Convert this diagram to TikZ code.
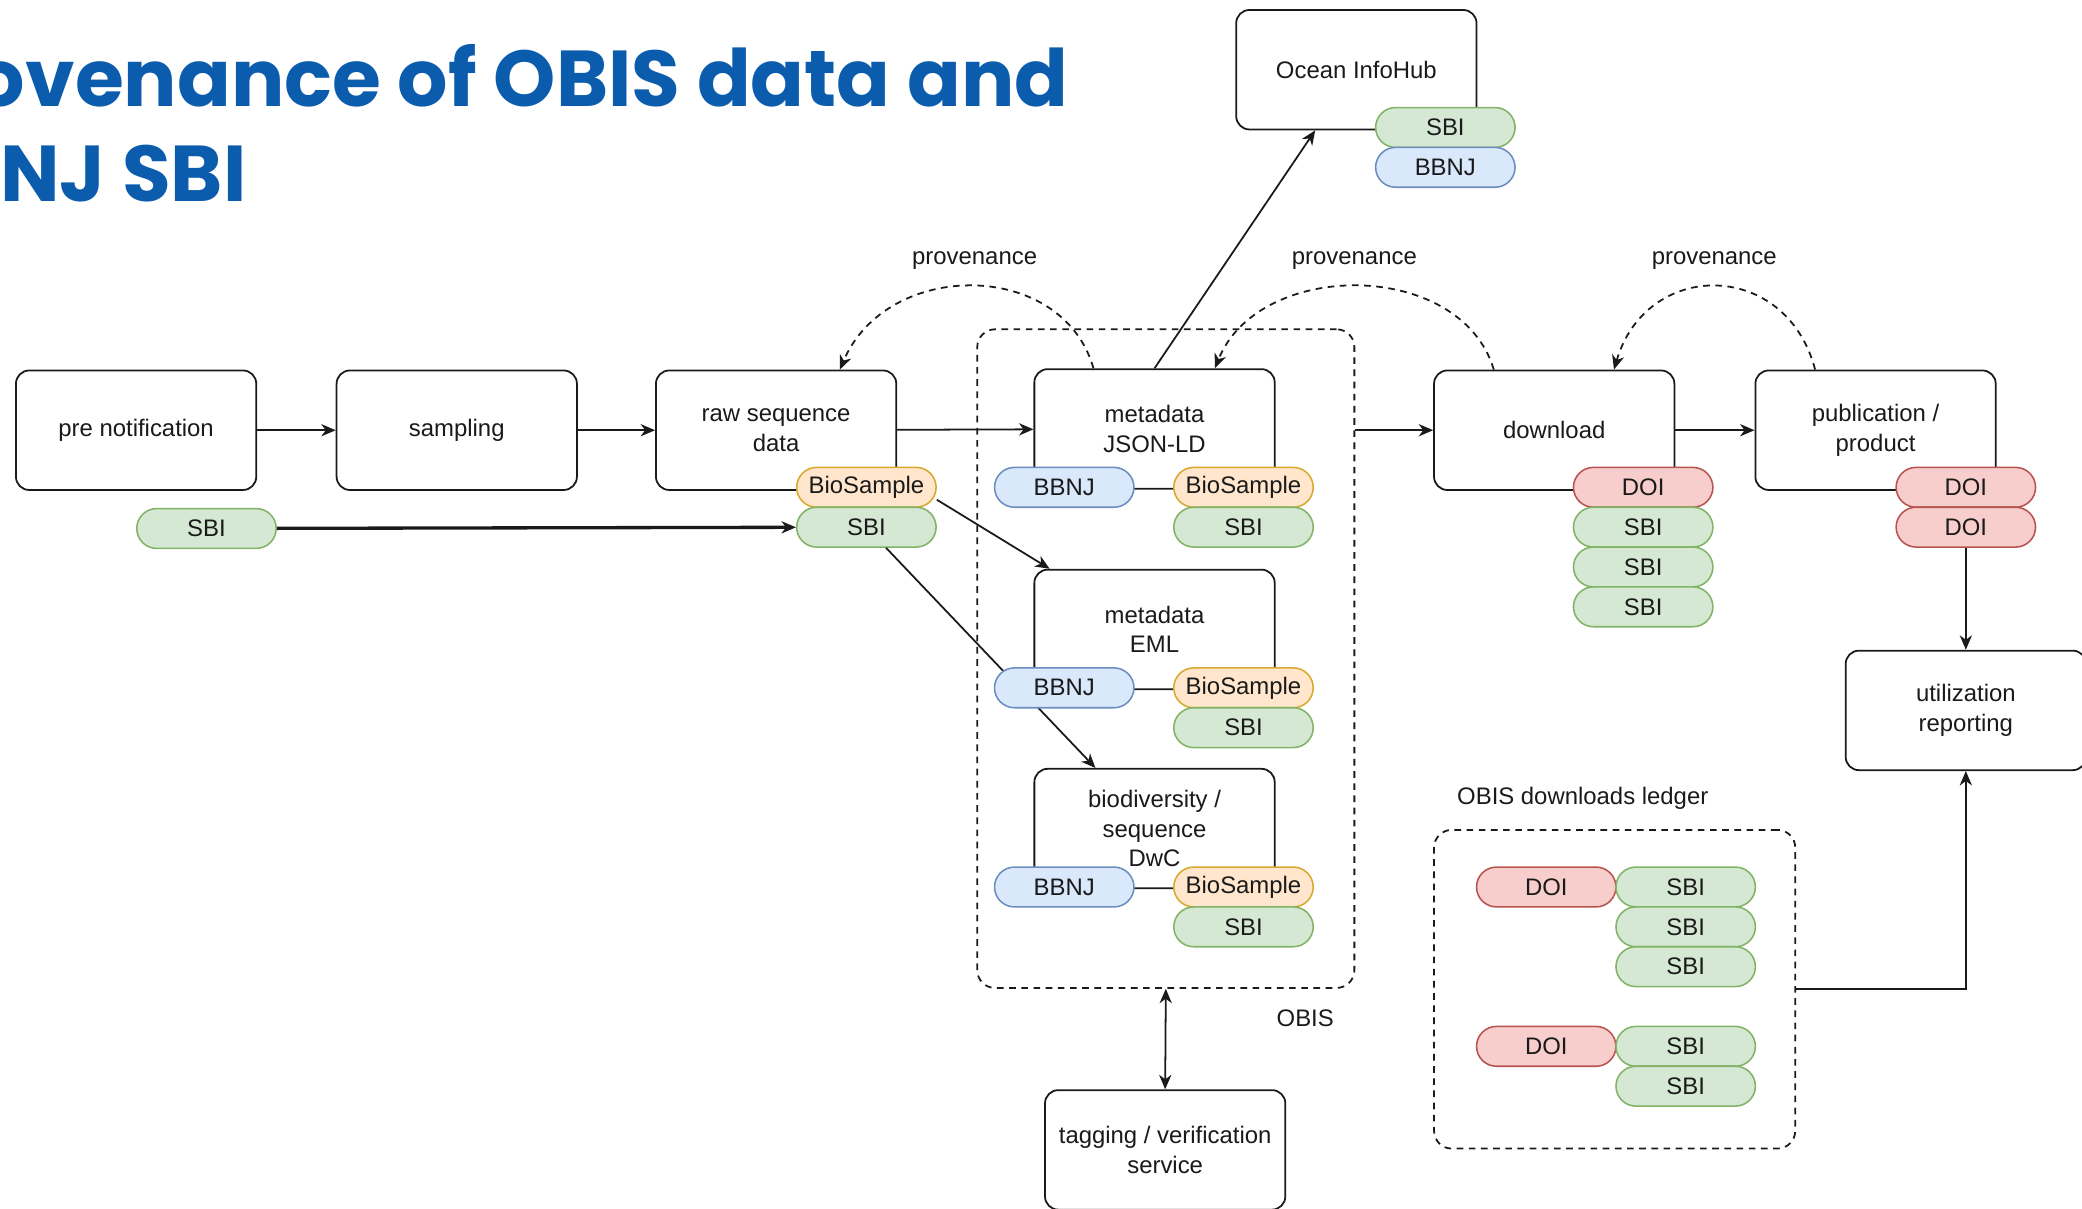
\documentclass[tikz,border=0pt]{standalone}
\usepackage{fontspec}
\setmainfont{Liberation Sans}
\newfontfamily\titlefont{Poppins}
\usetikzlibrary{arrows.meta,calc}
\definecolor{gfill}{HTML}{D5E8D4}\definecolor{gline}{HTML}{82B366}
\definecolor{bfill}{HTML}{DAE8FC}\definecolor{bline}{HTML}{6C8EBF}
\definecolor{ofill}{HTML}{FFE6CC}\definecolor{oline}{HTML}{D9A82E}
\definecolor{rfill}{HTML}{F8CECC}\definecolor{rline}{HTML}{B85450}
\definecolor{titleblue}{HTML}{0B5CAD}
\definecolor{ink}{HTML}{1A1A1A}
\begin{document}
\begin{tikzpicture}[x=0.6pt,y=-0.6pt,
  every node/.style={font=\fontsize{10.8pt}{13.2pt}\selectfont, text=ink},
  box/.style={draw=ink, line width=0.8pt, rounded corners=6pt, minimum width=108.6pt, minimum height=54pt, align=center, inner sep=0pt, fill=white},
  pill/.style={line width=0.7pt, rounded corners=9pt, minimum width=63pt, minimum height=18pt, inner sep=0pt},
  gpill/.style={pill, fill=gfill, draw=gline},
  bpill/.style={pill, fill=bfill, draw=bline},
  opill/.style={pill, fill=ofill, draw=oline},
  rpill/.style={pill, fill=rfill, draw=rline},
  container/.style={draw=ink, dash pattern=on 3pt off 2.5pt, line width=0.8pt, rounded corners=8pt, inner sep=0pt},
  arr/.style={-{Stealth[length=6.5pt,width=5.5pt,inset=2pt]}, line width=0.8pt, draw=ink},
  prov/.style={arr, dash pattern=on 3pt off 2.5pt},
  lbl/.style={inner sep=0pt},
  titletext/.style={anchor=base east, inner sep=0pt, font=\titlefont\bfseries\fontsize{35.8pt}{40pt}\selectfont, text=titleblue}
]
\useasboundingbox (0,0) rectangle (1568,910);

% title
\node[titletext] (t1) at (805,80) {Provenance of OBIS data and};
\node[titletext] (t2) at (186,152) {BBNJ SBI};

% containers
\node[container, minimum width=170.4pt, minimum height=297.6pt] (obis) at (878,496) {};
\node[container, minimum width=163.2pt, minimum height=144pt] (ledger) at (1216,745) {};
\node[lbl] (obislbl) at (983,767) {OBIS};
\node[lbl] (ledgerlbl) at (1192,601) {OBIS downloads ledger};

% boxes
\node[box] (pre) at (102.5,324) {pre notification};
\node[box] (samp) at (344,324) {sampling};
\node[box] (raw) at (584.5,324) {raw sequence\\data};
\node[box] (json) at (869.5,323) {metadata\\JSON-LD};
\node[box] (eml) at (869.5,474) {metadata\\EML};
\node[box] (dwc) at (869.5,624) {biodiversity /\\sequence\\DwC};
\node[box] (down) at (1170.5,324) {download};
\node[box] (pub) at (1412.5,324) {publication /\\product};
\node[box] (util) at (1480.5,535) {utilization\\reporting};
\node[box] (ocean) at (1021.5,52.5) {Ocean InfoHub};
\node[box] (tag) at (877.5,866) {tagging / verification\\service};

% provenance labels
\node[lbl] (p1) at (734,196) {provenance};
\node[lbl] (p2) at (1020,196) {provenance};
\node[lbl] (p3) at (1291,196) {provenance};

% connectors behind pills
\draw[arr] (pre) -- (samp);
\draw[arr] (samp) -- (raw);
\draw[arr] (raw) -- (json);
\draw[arr] (down.west -| obis.east) -- (down);
\draw[arr] (down) -- (pub);
\draw[arr] (json.north) -- ($(ocean.south)+(-31,0)$);
\draw[arr] (ledger.east) -| (util.south);
\draw[{Stealth[length=6.5pt,width=5.5pt,inset=2pt]}-{Stealth[length=6.5pt,width=5.5pt,inset=2pt]}, line width=0.8pt, draw=ink] (obis.south) -- (tag.north);

\draw[prov] ($(json.north)+(-46,0)$) .. controls (800,195) and (668,195) .. ($(raw.north)+(48,0)$);
\draw[prov] ($(down.north)+(-45.5,0)$) .. controls (1100,195) and (948,195) .. ($(json.north)+(45.5,0)$);
\draw[prov] ($(pub.north)+(-45.5,0)$) .. controls (1345,195) and (1240,195) .. ($(down.north)+(45,0)$);

% pills
\node[gpill] (lsbi) at (155.5,398) {SBI};
\node[opill] (rawbio) at (652.5,367) {BioSample};
\node[gpill] (rawsbi) at (652.5,397) {SBI};

\draw[arr] (rawbio.-10) -- ($(eml.north)+(-79,0)$);
\draw[arr] (rawsbi) -- ($(dwc.north)+(-44.5,0)$);

\node[bpill] (jbbnj) at (801.5,367) {BBNJ};
\node[opill] (jbio) at (936.5,367) {BioSample};
\node[gpill] (jsbi) at (936.5,397) {SBI};

\node[bpill] (ebbnj) at (801.5,518) {BBNJ};
\node[opill] (ebio) at (936.5,518) {BioSample};
\node[gpill] (esbi) at (936.5,548) {SBI};

\node[bpill] (dbbnj) at (801.5,668) {BBNJ};
\node[opill] (dbio) at (936.5,668) {BioSample};
\node[gpill] (dsbi) at (936.5,698) {SBI};

\node[gpill] (osbi) at (1088.5,96) {SBI};
\node[bpill] (obbnj) at (1088.5,126) {BBNJ};

\node[rpill] (ddoi) at (1237.5,367) {DOI};
\node[gpill] (dsbi1) at (1237.5,397) {SBI};
\node[gpill] (dsbi2) at (1237.5,427) {SBI};
\node[gpill] (dsbi3) at (1237.5,457) {SBI};

\node[rpill] (pdoi1) at (1480.5,367) {DOI};
\node[rpill] (pdoi2) at (1480.5,397) {DOI};

\node[rpill] (ldoi1) at (1164.5,668) {DOI};
\node[gpill] (lsbi1) at (1269.5,668) {SBI};
\node[gpill] (lsbi2) at (1269.5,698) {SBI};
\node[gpill] (lsbi3) at (1269.5,728) {SBI};
\node[rpill] (ldoi2) at (1164.5,788) {DOI};
\node[gpill] (lsbi4) at (1269.5,788) {SBI};
\node[gpill] (lsbi5) at (1269.5,818) {SBI};

\draw[arr, line width=1.5pt] (lsbi) -- (rawsbi);
\draw[arr] (pdoi2) -- (util);
\end{tikzpicture}
\end{document}
